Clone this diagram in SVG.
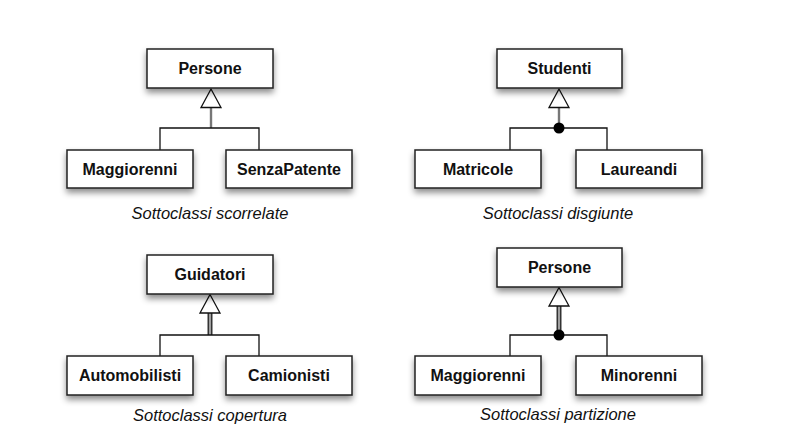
<svg xmlns="http://www.w3.org/2000/svg" width="785" height="446" viewBox="0 0 785 446">
<style>
.box{fill:#fff;stroke:#222;stroke-width:1.5;filter:url(#sh)}
.lbl{font-family:"Liberation Sans",Arial,sans-serif;font-weight:bold;font-size:16px;fill:#111;text-anchor:middle}
.cap{font-family:"Liberation Sans",Arial,sans-serif;font-style:italic;font-size:16.5px;fill:#111;text-anchor:middle}
.ln{fill:none;stroke:#111;stroke-width:1.3}
.stem{fill:none;stroke:#777;stroke-width:2.4}
.dbl{fill:none;stroke:#333;stroke-width:5}
.dbli{fill:none;stroke:#bbb;stroke-width:1.6}
.tri{fill:#fff;stroke:#111;stroke-width:1.3}
.dot{fill:#000}
</style>
<defs>
<filter id="sh" x="-20%" y="-30%" width="140%" height="180%">
<feDropShadow dx="0" dy="4" stdDeviation="3" flood-color="#000" flood-opacity="0.45"/>
</filter>
</defs>
<rect width="785" height="446" fill="#fff"/>
<g id="connectors">
<line class="stem" x1="211" y1="107" x2="211" y2="128"/>
<polyline class="ln" points="160,150 160,128 259,128 259,150"/>
<polygon class="tri" points="211,89 201,107.5 221,107.5"/>
<line class="stem" x1="559" y1="107" x2="559" y2="128"/>
<polyline class="ln" points="510,150 510,128 607,128 607,150"/>
<polygon class="tri" points="559,89 549,107.5 569,107.5"/>
<circle class="dot" cx="559" cy="128" r="5.5"/>
<line class="dbl" x1="210" y1="312" x2="210" y2="335"/>
<line class="dbli" x1="210" y1="312" x2="210" y2="335"/>
<polyline class="ln" points="160,356 160,335 259,335 259,356"/>
<polygon class="tri" points="210,294.5 200,313 220,313"/>
<line class="dbl" x1="559" y1="305" x2="559" y2="335"/>
<line class="dbli" x1="559" y1="305" x2="559" y2="335"/>
<polyline class="ln" points="510,356 510,335 607,335 607,356"/>
<polygon class="tri" points="559,287.5 549,306 569,306"/>
<circle class="dot" cx="559" cy="335" r="5.5"/>
</g>
<g id="persone1"><rect class="box" x="147" y="49" width="126" height="39"/><text class="lbl" x="210" y="74">Persone</text></g>
<g id="maggiorenni1"><rect class="box" x="67" y="150" width="126" height="38"/><text class="lbl" x="130" y="175">Maggiorenni</text></g>
<g id="senzapatente"><rect class="box" x="226" y="150" width="126" height="38"/><text class="lbl" x="289" y="175">SenzaPatente</text></g>
<text class="cap" x="210" y="219">Sottoclassi scorrelate</text>

<g id="studenti"><rect class="box" x="497" y="49" width="125" height="39"/><text class="lbl" x="559.5" y="74">Studenti</text></g>
<g id="matricole"><rect class="box" x="415" y="150" width="126" height="38"/><text class="lbl" x="478" y="175">Matricole</text></g>
<g id="laureandi"><rect class="box" x="576" y="150" width="126" height="38"/><text class="lbl" x="639" y="175">Laureandi</text></g>
<text class="cap" x="558" y="219">Sottoclassi disgiunte</text>

<g id="guidatori"><rect class="box" x="147" y="255" width="126" height="39"/><text class="lbl" x="210" y="280">Guidatori</text></g>
<g id="automobilisti"><rect class="box" x="67" y="356" width="126" height="39"/><text class="lbl" x="130" y="381">Automobilisti</text></g>
<g id="camionisti"><rect class="box" x="226" y="356" width="126" height="39"/><text class="lbl" x="289" y="381">Camionisti</text></g>
<text class="cap" x="210" y="421">Sottoclassi copertura</text>

<g id="persone2"><rect class="box" x="497" y="248" width="125" height="39"/><text class="lbl" x="559.5" y="273">Persone</text></g>
<g id="maggiorenni2"><rect class="box" x="415" y="356" width="126" height="39"/><text class="lbl" x="478" y="381">Maggiorenni</text></g>
<g id="minorenni"><rect class="box" x="576" y="356" width="126" height="39"/><text class="lbl" x="639" y="381">Minorenni</text></g>
<text class="cap" x="558" y="420">Sottoclassi partizione</text>
</svg>
